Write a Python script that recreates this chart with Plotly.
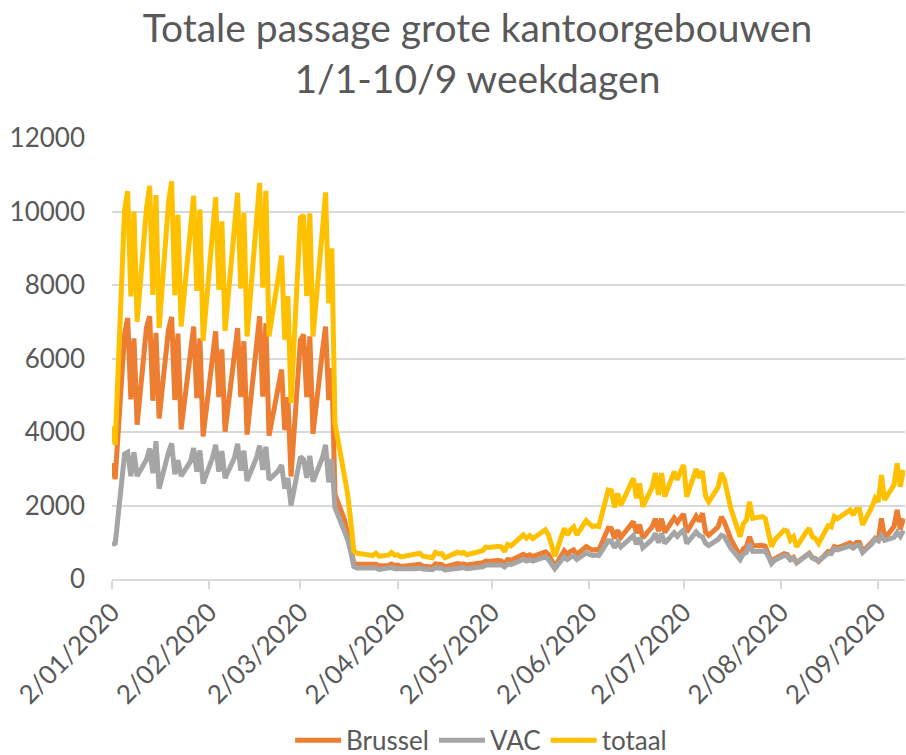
import pandas as pd
import plotly.graph_objects as go

# Weekdays 2 Jan 2020 - 10 Sep 2020
DATES = pd.bdate_range("2020-01-02", "2020-09-10")

BRUSSEL = [
    3150, 2720,
    6650, 7100, 4890, 6550, 4200,
    6850, 7150, 4850, 6700, 4370,
    6800, 7130, 4870, 6680, 4070,
    6200, 6870, 4920, 6550, 3880,
    6000, 6740, 4950, 6250, 4010,
    6100, 6830, 4950, 6470, 3930,
    6300, 7150, 4960, 6960, 3900,
    5150, 5700, 4050, 4950, 2790,
    6500, 6650, 4950, 6600, 3950,
    6200, 6870, 4870, 5740, 2300,
    1620, 1250, 840, 430, 400,
    390, 380, 370, 400, 360,
    370, 410, 370, 380, 340,
    370, 370, 380, 400, 350,
    330, 410, 390, 390, 330,
    390, 420, 400, 410, 380,
    420, 420, 440, 490, 480,
    500, 490, 420, 530, 510,
    620, 670, 620, 660, 610,
    700, 740, 670, 480, 340,
    770, 670, 750, 790, 670,
    880, 830, 790, 800, 790,
    1380, 1370, 1100, 1330, 1130,
    1420, 1560, 1250, 1480, 1120,
    1420, 1640, 1300, 1640, 1270,
    1660, 1540, 1660, 1770, 1270,
    1710, 1570, 1790, 1280, 1190,
    1420, 1690, 1550, 1310, 1090,
    620, 820, 880, 1150, 900,
    920, 890, 690, 460, 550,
    690, 670, 540, 590, 440,
    640, 700, 580, 560, 480,
    750, 730, 880, 850, 880,
    980, 900, 990, 990, 750,
    1010, 1110, 1060, 1650, 1100,
    1430, 1880, 1350, 1650,
]

VAC = [
    1000, 930,
    3400, 3450, 2800, 3450, 2800,
    3250, 3550, 2880, 3750, 2460,
    3450, 3690, 2850, 3230, 2800,
    3200, 3560, 2920, 3500, 2600,
    3300, 3650, 2920, 3480, 2740,
    3300, 3680, 2950, 3490, 2670,
    3300, 3630, 2970, 3600, 2700,
    2950, 3100, 2460, 2750, 2000,
    3330, 3250, 2750, 3350, 2650,
    3300, 3650, 2630, 3260, 1940,
    1300, 1080, 750, 340, 300,
    290, 280, 270, 300, 260,
    280, 310, 280, 280, 260,
    270, 280, 280, 300, 270,
    250, 310, 290, 300, 250,
    300, 310, 300, 310, 280,
    310, 320, 330, 380, 380,
    390, 380, 330, 410, 390,
    500, 530, 490, 520, 490,
    560, 600, 530, 390, 280,
    610, 530, 590, 630, 530,
    710, 670, 640, 650, 640,
    1040, 1030, 850, 1000, 870,
    1080, 1180, 950, 1120, 850,
    1080, 1240, 990, 1240, 970,
    1260, 1160, 1260, 1330, 970,
    1280, 1180, 1150, 970, 910,
    1080, 1190, 1150, 990, 840,
    530, 680, 720, 950, 750,
    780, 760, 610, 420, 510,
    640, 630, 520, 560, 440,
    630, 680, 570, 540, 490,
    700, 690, 820, 790, 820,
    900, 840, 910, 910, 720,
    960, 1090, 1040, 1180, 1050,
    1130, 1270, 1160, 1320,
]

TOTAAL = [
    4150, 3650,
    10050, 10550, 7690, 10000, 7000,
    10100, 10700, 7730, 10450, 6830,
    10250, 10820, 7720, 9910, 6870,
    9400, 10430, 7840, 10050, 6480,
    9300, 10390, 7870, 9730, 6750,
    9400, 10510, 7900, 9960, 6600,
    9600, 10780, 7930, 10560, 6600,
    8100, 8800, 6510, 7700, 4790,
    9830, 9900, 7700, 9950, 6600,
    9500, 10520, 7500, 9000, 4240,
    2920, 2330, 1590, 770, 700,
    680, 660, 640, 700, 620,
    650, 720, 650, 660, 600,
    640, 650, 660, 700, 620,
    580, 720, 680, 690, 580,
    690, 730, 700, 720, 660,
    730, 740, 770, 870, 860,
    890, 870, 750, 940, 900,
    1120, 1200, 1110, 1180, 1100,
    1260, 1340, 1200, 870, 620,
    1380, 1200, 1340, 1420, 1200,
    1590, 1500, 1430, 1450, 1430,
    2420, 2400, 1950, 2330, 2000,
    2500, 2740, 2200, 2600, 1970,
    2500, 2880, 2290, 2880, 2240,
    2920, 2700, 2920, 3100, 2240,
    2990, 2750, 2940, 2250, 2100,
    2500, 2880, 2700, 2300, 1930,
    1150, 1500, 1600, 2100, 1650,
    1700, 1650, 1300, 880, 1060,
    1330, 1300, 1060, 1150, 880,
    1270, 1380, 1150, 1100, 970,
    1450, 1420, 1700, 1640, 1700,
    1880, 1740, 1900, 1900, 1470,
    1970, 2200, 2100, 2830, 2150,
    2560, 3150, 2510, 2970,
]

TICK_DATES = ["2020-01-02", "2020-02-02", "2020-03-02", "2020-04-02", "2020-05-02",
              "2020-06-02", "2020-07-02", "2020-08-02", "2020-09-02"]
TICK_LABELS = ["2/01/2020", "2/02/2020", "2/03/2020", "2/04/2020", "2/05/2020",
               "2/06/2020", "2/07/2020", "2/08/2020", "2/09/2020"]
Y_TICKS = [0, 2000, 4000, 6000, 8000, 10000, 12000]

SERIES = [("Brussel", BRUSSEL, "#ED7D31"), ("VAC", VAC, "#A5A5A5"), ("totaal", TOTAAL, "#FFC000")]

TXT = "#595959"
GRID = "#D9D9D9"
FONT = "Lato"

fig = go.Figure()
for name, vals, color in SERIES:
    fig.add_trace(go.Scatter(x=DATES, y=vals, name=name, mode="lines",
                             line=dict(color=color, width=5)))

fig.update_layout(
    width=906, height=755,
    paper_bgcolor="white", plot_bgcolor="white",
    margin=dict(l=112, r=1, t=138, b=176, autoexpand=False),
    title=dict(text="Totale passage grote kantoorgebouwen<br>1/1-10/9 weekdagen",
               x=0.527, xref="container", xanchor="center",
               y=0.944, yref="container", yanchor="top",
               font=dict(family=FONT, size=39, color=TXT)),
    xaxis=dict(type="date", range=["2020-01-02", "2020-09-10 12:00"],
               tickvals=TICK_DATES, ticktext=TICK_LABELS, tickangle=-45,
               ticks="outside", ticklen=8, tickcolor=GRID, tickwidth=1.5,
               showgrid=False, showline=True, linecolor=GRID, linewidth=1.5,
               zeroline=False, ticklabelstandoff=-2, automargin=False,
               tickfont=dict(family=FONT, size=26, color=TXT)),
    yaxis=dict(range=[0, 12000], tickvals=Y_TICKS, tickformat="d",
               showgrid=True, gridcolor=GRID, automargin=False,
               gridwidth=1.5, showline=False, zeroline=False, ticks="",
               ticklabelstandoff=26,
               tickfont=dict(family=FONT, size=26, color=TXT)),
    legend=dict(orientation="h", xref="container", x=0.531, xanchor="center",
                yref="paper", y=-0.366, yanchor="middle", itemwidth=46,
                font=dict(family=FONT, size=26, color=TXT)),
    showlegend=True,
)

fig.write_html("out.html", config={"displayModeBar": False},
               post_script="document.body.style.margin='0';")
